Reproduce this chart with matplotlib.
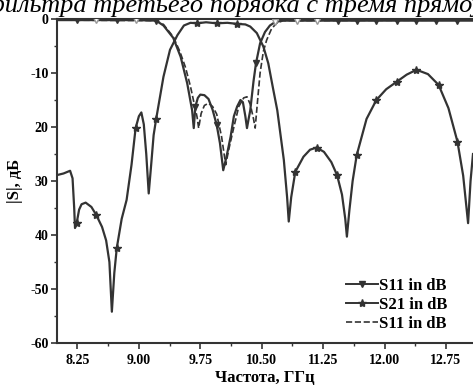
import matplotlib
matplotlib.use('Agg')
import matplotlib.pyplot as plt
from matplotlib.lines import Line2D
from matplotlib.ticker import MultipleLocator, FixedLocator

# Measured S21 (transmission), dB
s21_freq = [8.00, 8.08, 8.16, 8.19, 8.21, 8.22, 8.24, 8.27, 8.30, 8.35, 8.42, 8.48,
            8.55, 8.60, 8.64, 8.67, 8.70, 8.73, 8.79, 8.85, 8.91, 8.96, 9.00, 9.03,
            9.06, 9.09, 9.12, 9.15, 9.18, 9.21, 9.30, 9.38, 9.47, 9.55, 9.63, 9.71,
            9.82, 9.95, 10.08, 10.20, 10.30, 10.36, 10.44, 10.52, 10.58, 10.64, 10.69,
            10.77, 10.81, 10.83, 10.86, 10.91, 11.01, 11.09, 11.17, 11.26, 11.35, 11.42,
            11.48, 11.52, 11.54, 11.57, 11.61, 11.66, 11.78, 11.90, 12.02, 12.15, 12.27,
            12.39, 12.53, 12.66, 12.78, 12.89, 12.96, 13.02, 13.05, 13.08]
s21_db = [-28.9, -28.6, -28.1, -29.5, -35.0, -38.7, -37.8, -35.3, -34.3, -34.0, -34.8, -36.3,
          -38.5, -41.0, -45.0, -54.2, -47.0, -42.4, -37.0, -33.5, -27.0, -20.2, -18.0, -17.3,
          -19.5, -25.0, -32.3, -27.0, -21.5, -18.6, -10.7, -5.7, -3.0, -1.2, -0.7, -0.8,
          -0.6, -0.8, -0.7, -0.9, -1.0, -1.4, -2.6, -5.1, -8.2, -13.0, -16.9,
          -26.1, -33.0, -37.5, -33.0, -28.3, -25.5, -24.2, -23.8, -24.6, -26.5, -28.9,
          -32.5, -37.0, -40.3, -35.5, -30.0, -25.2, -18.5, -15.0, -13.0, -11.6, -10.3,
          -9.4, -10.2, -12.2, -16.5, -22.7, -29.0, -37.8, -30.0, -25.0]
s21_marks = [6, 11, 17, 21, 29, 35, 37, 39, 51, 54, 57, 63, 65, 67, 69, 71, 73]

# Measured S11 (reflection), dB
s11_freq = [8.00, 8.24, 8.48, 8.73, 8.97, 9.21, 9.30, 9.42, 9.51, 9.59, 9.65, 9.67,
            9.69, 9.72, 9.75, 9.80, 9.85, 9.90, 9.95, 9.99, 10.03, 10.07, 10.12, 10.16,
            10.20, 10.24, 10.27, 10.30, 10.32, 10.34, 10.36, 10.40, 10.43, 10.48, 10.54,
            10.60, 10.66, 10.75, 10.93, 11.17, 11.43, 11.66, 11.90, 12.15, 12.39, 12.63,
            12.88, 13.08]
s11_db = [-0.2, -0.2, -0.2, -0.2, -0.2, -0.3, -1.2, -3.5, -7.0, -11.9, -16.9, -20.2,
          -16.2, -14.6, -14.0, -14.1, -14.8, -16.8, -19.6, -23.0, -28.0, -25.5, -21.8, -18.0,
          -16.2, -15.0, -15.4, -18.0, -20.2, -18.5, -16.9, -11.5, -8.2, -4.5, -2.4,
          -1.2, -0.6, -0.3, -0.3, -0.3, -0.3, -0.3, -0.3, -0.3, -0.3, -0.3,
          -0.3, -0.3]
s11_marks = [1, 3, 5, 12, 18, 32, 40, 41, 42, 43, 44, 45, 46]
s11_open = [2, 4, 36, 38, 39]

# Simulated S11, dB
sim_freq = [8.00, 9.21, 9.30, 9.42, 9.50, 9.57, 9.63, 9.68, 9.71, 9.73, 9.76, 9.80,
            9.85, 9.90, 9.95, 10.01, 10.06, 10.10, 10.16, 10.22, 10.28, 10.32, 10.36,
            10.40, 10.42, 10.45, 10.48, 10.52, 10.56, 10.62, 10.68, 10.76, 13.08]
sim_db = [-0.2, -0.3, -1.0, -3.3, -6.0, -9.0, -12.5, -16.0, -18.1, -20.2, -17.5, -16.0,
          -15.6, -16.2, -17.6, -21.8, -27.0, -24.0, -20.0, -16.2, -14.6, -14.4, -15.8,
          -18.5, -20.2, -15.0, -10.0, -6.0, -3.9, -1.8, -0.8, -0.3, -0.2]

xticks = [8.25, 9.00, 9.75, 10.50, 11.25, 12.00, 12.75]
yticks = [0, -10, -20, -30, -40, -50, -60]
ytick_labels = ['0', '-10', '20', '30', '40', '-50', '-60']

plt.rcParams['font.family'] = ['Liberation Serif', 'DejaVu Serif']

fig = plt.figure(figsize=(4.73, 3.85), dpi=100)
ax = fig.add_axes([0.1205, 0.109, 0.8795, 0.8416])

col = '#333333'
ax.plot(sim_freq, sim_db, '--', color=col, lw=1.2, zorder=2)
ax.plot(s11_freq, s11_db, '-', color=col, lw=1.6, marker='v', ms=5,
        markevery=s11_marks, zorder=3)
ax.plot([s11_freq[i] for i in s11_open], [s11_db[i] for i in s11_open], 'v',
        color='#999999', mfc='white', ms=5, zorder=4)
ax.plot(s21_freq, s21_db, '-', color=col, lw=1.6, marker='*', ms=6,
        markevery=s21_marks, zorder=3)

ax.set_xlim(8.0, 13.08)
ax.set_ylim(-60, 0)
ax.xaxis.set_major_locator(FixedLocator(xticks))
ax.xaxis.set_minor_locator(MultipleLocator(0.375))
ax.set_yticks(yticks)
ax.set_yticklabels(ytick_labels)
ax.yaxis.set_minor_locator(MultipleLocator(5))
ax.set_xticklabels([f'{t:.2f}' for t in xticks])
for lab in ax.get_xticklabels() + ax.get_yticklabels():
    lab.set_fontweight('bold')
    lab.set_fontsize(10)
ax.tick_params(which='major', direction='out', length=4, width=1.2, color=col, pad=2)
ax.tick_params(axis='x', which='major', pad=4)
ax.tick_params(which='minor', direction='out', length=2.5, width=1.0, color=col)
ax.spines['right'].set_visible(False)
for s in ['left', 'bottom', 'top']:
    ax.spines[s].set_linewidth(1.5)
    ax.spines[s].set_color(col)

ax.set_xlabel('Частота, ГГц', fontsize=12, fontweight='bold', labelpad=2)
ax.set_ylabel('|S|, дБ', fontsize=12, fontweight='bold', labelpad=5)

handles = [Line2D([], [], color=col, lw=1.4, marker='v', ms=5),
           Line2D([], [], color=col, lw=1.4, marker='*', ms=6),
           Line2D([], [], color=col, lw=1.2, ls='--')]
ax.legend(handles, ['S11 in dB', 'S21 in dB', 'S11 in dB'], loc='lower right',
          bbox_to_anchor=(0.965, 0.0), frameon=False, handlelength=1.9,
          handletextpad=0.1, labelspacing=0.2, borderaxespad=0.25,
          prop={'weight': 'bold', 'size': 12})

fig.text(-0.03, 0.969, 'фильтра третьего порядка с тремя прямоугольными',
         fontsize=19, style='italic', va='baseline', ha='left')

fig.savefig('out.png', dpi=100)
